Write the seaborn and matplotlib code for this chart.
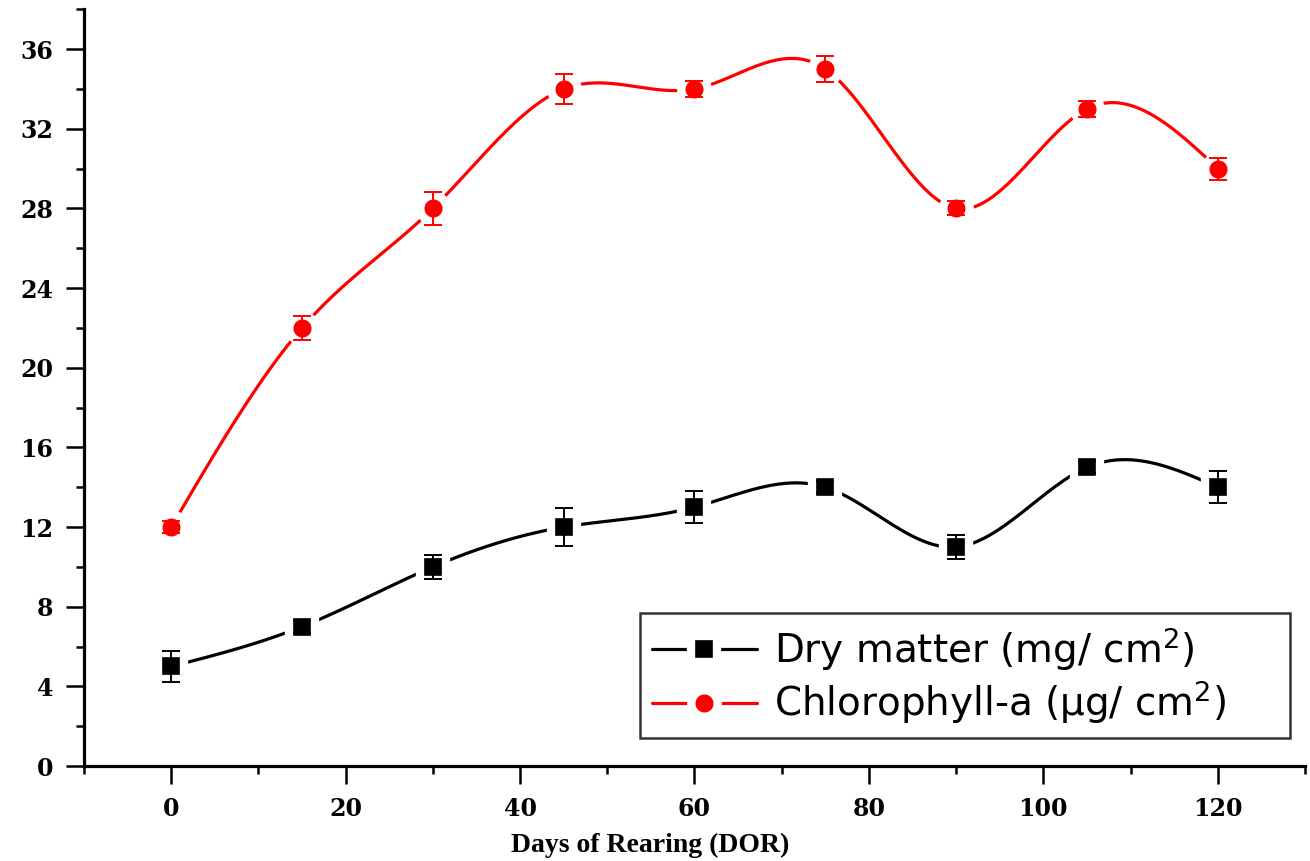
import numpy as np
import pandas as pd
import seaborn as sns
import matplotlib.pyplot as plt
from matplotlib.lines import Line2D
from matplotlib.ticker import MultipleLocator

# data
days = [0, 15, 30, 45, 60, 75, 90, 105, 120]
dry_matter = [5, 7, 10, 12, 13, 14, 11, 15, 14]
dry_err = [0.8, 0.3, 0.62, 0.95, 0.8, 0.3, 0.58, 0.3, 0.8]
chl_a = [12, 22, 28, 34, 34, 35, 28, 33, 30]
chl_err = [0.3, 0.62, 0.85, 0.75, 0.42, 0.64, 0.35, 0.4, 0.55]

labels = ["Dry matter (mg/ cm$^2$)", "Chlorophyll-a (\u03bcg/ cm$^2$)"]
colors = ["black", "red"]
markers = ["s", "o"]


def spline_curve(x, y, n=400):
    # natural cubic spline, used only to draw the smooth connecting line
    x = np.asarray(x, float)
    y = np.asarray(y, float)
    h = np.diff(x)
    m = len(x)
    A = np.zeros((m - 2, m - 2))
    b = np.zeros(m - 2)
    for i in range(1, m - 1):
        if i - 2 >= 0:
            A[i - 1, i - 2] = h[i - 1]
        A[i - 1, i - 1] = 2 * (h[i - 1] + h[i])
        if i < m - 2:
            A[i - 1, i] = h[i]
        b[i - 1] = 6 * ((y[i + 1] - y[i]) / h[i] - (y[i] - y[i - 1]) / h[i - 1])
    M = np.zeros(m)
    M[1:-1] = np.linalg.solve(A, b)
    xs = np.linspace(x[0], x[-1], n)
    k = np.clip(np.searchsorted(x, xs) - 1, 0, m - 2)
    t1 = x[k + 1] - xs
    t0 = xs - x[k]
    hk = h[k]
    ys = (M[k] * t1**3 + M[k + 1] * t0**3) / (6 * hk) \
        + (y[k] / hk - M[k] * hk / 6) * t1 + (y[k + 1] / hk - M[k + 1] * hk / 6) * t0
    return xs, ys


sns.set_style("ticks")
plt.rcParams["font.family"] = ["DejaVu Sans"]
plt.rcParams["text.color"] = "black"
plt.rcParams["axes.labelcolor"] = "black"
plt.rcParams["xtick.color"] = "black"
plt.rcParams["ytick.color"] = "black"

fig = plt.figure(figsize=(13.1, 8.61), dpi=100)
ax = fig.add_axes([0.0641, 0.1103, 0.9321, 0.8789])

curves = []
for name, vals in zip(labels, [dry_matter, chl_a]):
    xs, ys = spline_curve(days, vals)
    curves.append(pd.DataFrame({"day": xs, "value": ys, "series": name}))
curves = pd.concat(curves, ignore_index=True)

sns.lineplot(data=curves, x="day", y="value", hue="series",
             palette=dict(zip(labels, colors)), linewidth=2.3,
             legend=False, ax=ax, zorder=2)

for vals, errs, col, mk in zip([dry_matter, chl_a], [dry_err, chl_err], colors, markers):
    sns.scatterplot(x=days, y=vals, marker=mk, s=361, color=col,
                    edgecolor="white", linewidth=6, ax=ax, zorder=3)
    ax.errorbar(days, vals, yerr=errs, fmt="none", ecolor=col,
                elinewidth=1.4, capsize=6.5, capthick=1.4, zorder=4)

ax.set_xlim(-10, 130)
ax.set_ylim(0, 38)
ax.xaxis.set_major_locator(MultipleLocator(20))
ax.xaxis.set_minor_locator(MultipleLocator(10))
ax.yaxis.set_major_locator(MultipleLocator(4))
ax.yaxis.set_minor_locator(MultipleLocator(2))
ax.set_xticks(range(0, 121, 20))

for s in ["top", "right"]:
    ax.spines[s].set_visible(False)
for s in ["left", "bottom"]:
    ax.spines[s].set_linewidth(2.3)
    ax.spines[s].set_color("black")

ax.tick_params(axis="both", which="major", direction="out", length=13,
               width=1.8, color="black", labelcolor="black", pad=9)
ax.tick_params(axis="both", which="minor", direction="out", length=6,
               width=1.8, color="black")
for lab in ax.get_xticklabels() + ax.get_yticklabels():
    lab.set_fontfamily("DejaVu Serif")
    lab.set_fontweight("heavy")
    lab.set_fontsize(17)

ax.set_ylabel("")
ax.set_xlabel("Days of Rearing (DOR)", fontfamily="Liberation Serif",
              fontweight="bold", fontsize=20, color="black")
ax.xaxis.set_label_coords((650 - 84) / 1221, -0.088)

handles = [
    Line2D([0], [0], color=c, lw=2.3, marker=m, ms=19, mfc=c, mec="white", mew=6)
    for c, m in zip(colors, markers)
]
leg = ax.legend(handles, labels, loc="lower left", mode="expand",
                bbox_to_anchor=(0.4554, 0.037, 0.5324, 0.16),
                fontsize=28, frameon=True, fancybox=False, handlelength=2.7,
                handletextpad=0.45, labelspacing=0.15, borderpad=0.3,
                borderaxespad=0)
leg.get_frame().set_edgecolor("black")
leg.get_frame().set_linewidth(1.8)
for t in leg.get_texts():
    t.set_color("black")

fig.savefig("out.png", dpi=100)
